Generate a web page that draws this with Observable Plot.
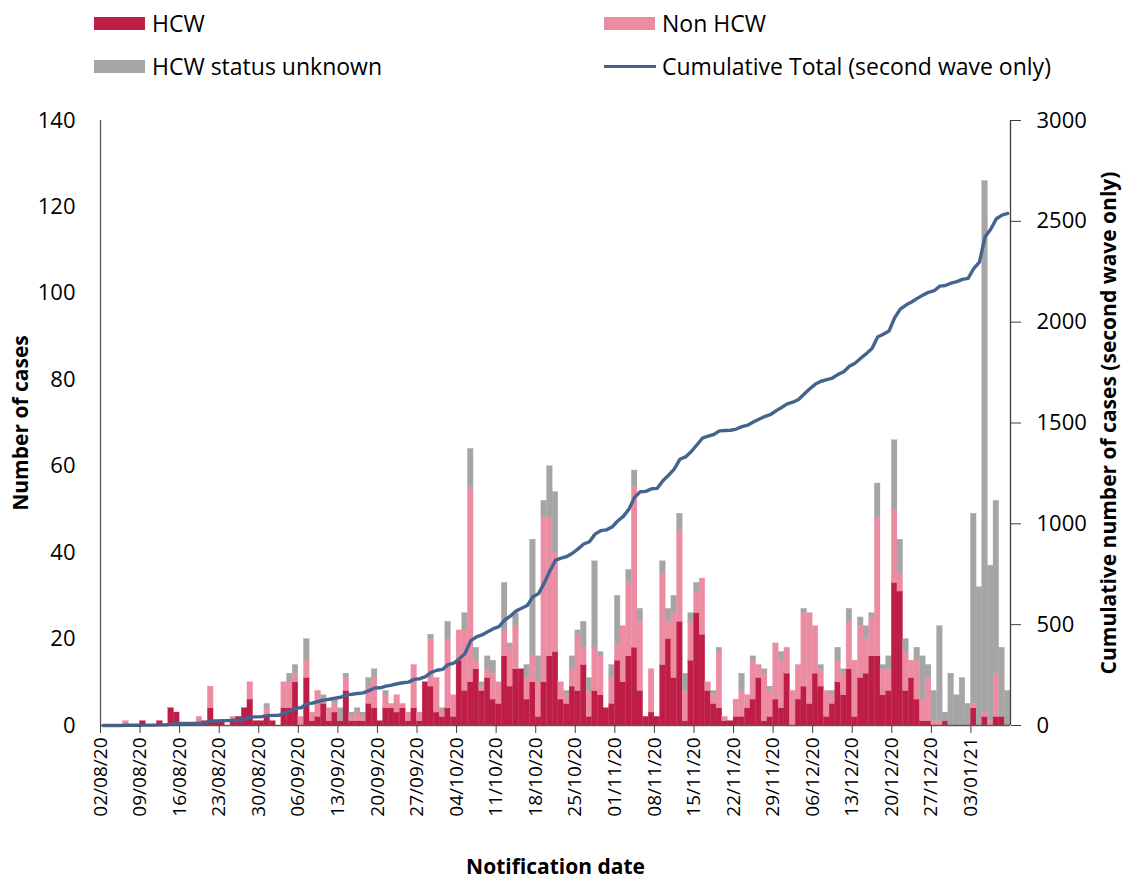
<!DOCTYPE html>
<html><head><meta charset="utf-8">
<script src="https://cdn.jsdelivr.net/npm/d3@7"></script>
<script src="https://cdn.jsdelivr.net/npm/@observablehq/plot@0.6"></script>
<style>
html,body{margin:0;padding:0;background:#fff;overflow:hidden}
body{font-family:"Open Sans",sans-serif;color:#000}
#legend{position:relative;width:1127px;height:95px}
.item{position:absolute;display:flex;align-items:center;font-size:23px;height:30px;white-space:nowrap}
.sw{width:51px;height:13px;margin-right:7px}
.ln{width:52px;height:3px;margin-right:6px}
</style></head><body>
<div id="legend"></div>
<div id="chart"></div>
<script>
// ---- data ----
const startDate = "2020-08-02";
const hcw = [
 0,0,0,0,0,0,0,1,0,0, 1,0,4,3,0,0,0,0,1,4, 1,1,0,1,2,4,6,1,1,2,
 1,0,4,4,10,0,11,1,2,5, 1,3,1,8,1,1,1,5,4,1, 4,4,3,4,1,4,1,10,9,3,
 2,4,2,15,8,10,13,8,11,6, 5,16,9,13,13,6,10,2,10,16, 17,6,5,9,8,14,2,8,7,4,
 5,15,10,16,18,8,2,3,2,14, 20,11,24,1,15,26,21,8,5,4, 1,1,2,2,4,6,11,1,2,6,
 4,12,0,6,9,5,12,9,2,5, 10,7,13,2,11,12,16,16,7,8, 33,31,8,11,6,1,1,0,0,1,
 0,0,0,0,4,0,2,0,2,2, 0
];
const nonHcw = [
 0,0,0,0,1,0,0,0,0,0, 0,0,0,0,0,0,0,2,0,5, 0,0,0,1,0,0,4,0,0,2,
 0,0,6,6,2,2,4,2,6,1, 3,2,0,3,1,2,1,4,7,0, 3,1,4,1,2,10,2,0,11,8,
 1,16,5,7,14,45,2,1,2,6, 5,6,9,10,0,5,6,8,38,32, 23,4,2,4,13,4,6,10,9,0,
 6,4,13,17,37,16,0,10,0,21, 4,15,21,7,9,5,13,2,2,13, 1,0,4,6,3,9,3,11,6,13,
 11,6,8,8,17,21,11,4,6,2, 5,5,11,13,12,8,9,32,6,5, 17,4,9,4,9,5,10,1,1,0,
 0,0,0,0,1,0,1,1,10,0, 0
];
const unknown = [
 0,0,0,0,0,0,0,0,0,0, 0,0,0,0,0,0,0,0,0,0, 0,0,0,0,0,0,0,0,0,1,
 0,0,0,2,2,0,5,0,0,1, 0,1,3,1,1,1,1,2,2,0, 1,0,0,0,0,0,0,0,1,0,
 1,4,0,0,4,9,3,1,3,3, 0,11,1,3,0,3,27,6,4,12, 14,0,1,3,1,6,3,20,1,0,
 3,11,0,3,4,3,0,0,0,3, 3,4,4,4,2,2,0,0,1,1, 0,0,0,4,0,1,0,1,1,0,
 2,0,0,0,1,0,0,1,0,1, 3,1,3,0,2,3,1,8,1,3, 16,8,3,0,3,10,3,7,22,2,
 12,7,11,5,44,32,123,36,40,16, 8
];
const tickLabels = ["02/08/20","09/08/20","16/08/20","23/08/20","30/08/20","06/09/20","13/09/20",
 "20/09/20","27/09/20","04/10/20","11/10/20","18/10/20","25/10/20","01/11/20","08/11/20","15/11/20",
 "22/11/20","29/11/20","06/12/20","13/12/20","20/12/20","27/12/20","03/01/21"];
const leftTicks = [0,20,40,60,80,100,120,140];
const rightTicks = [0,500,1000,1500,2000,2500,3000];
const seriesNames = ["HCW","Non HCW","HCW status unknown"];
const seriesColors = ["#BE1E46","#EC8CA3","#A5A5A5"];
const lineName = "Cumulative Total (second wave only)";
const lineColor = "#44648F";
const leftMax = 140, rightMax = 3000;
const xTitle = "Notification date";
const yTitle = "Number of cases";
const y2Title = "Cumulative number of cases (second wave only)";

// ---- build tables ----
const start = d3.utcParse("%Y-%m-%d")(startDate);
const dates = hcw.map((_, i) => d3.utcDay.offset(start, i));
const seriesValues = [hcw, nonHcw, unknown];
const rows = [];
dates.forEach((d, i) => {
  seriesNames.forEach((s, k) => {
    rows.push({start: d, end: d3.utcDay.offset(d, 1), series: s, value: seriesValues[k][i]});
  });
});
const totals = dates.map((_, i) => hcw[i] + nonHcw[i] + unknown[i]);
const cumulative = Array.from(d3.cumsum(totals));
const toLeft = v => v * leftMax / rightMax;
const lineRows = dates.map((d, i) => ({mid: d3.utcHour.offset(d, 12), cum: cumulative[i]}));
const xDomain = [dates[0], d3.utcDay.offset(dates[dates.length - 1], 1)];
const parseTick = d3.utcParse("%d/%m/%y");
const tickDates = tickLabels.map(parseTick);

// ---- legend ----
const legend = document.getElementById("legend");
const items = [
  {label: seriesNames[0], color: seriesColors[0], left: 94, cy: 23, type: "sw"},
  {label: seriesNames[2], color: seriesColors[2], left: 94, cy: 66, type: "sw"},
  {label: seriesNames[1], color: seriesColors[1], left: 604, cy: 23, type: "sw"},
  {label: lineName, color: lineColor, left: 604, cy: 66, type: "ln"}
];
items.forEach(it => {
  const div = document.createElement("div");
  div.className = "item";
  div.style.left = it.left + "px";
  div.style.top = (it.cy - 15) + "px";
  const sw = document.createElement("span");
  sw.className = it.type;
  sw.style.background = it.color;
  const tx = document.createElement("span");
  tx.textContent = it.label;
  div.appendChild(sw); div.appendChild(tx);
  legend.appendChild(div);
});

// ---- chart ----
const chart = Plot.plot({
  width: 1127, height: 785,
  marginTop: 25, marginBottom: 155, marginLeft: 100, marginRight: 117,
  style: {fontFamily: "'Open Sans', sans-serif", fontSize: "22px", color: "#000", background: "#fff", overflow: "visible"},
  x: {type: "utc", domain: xDomain},
  y: {domain: [0, leftMax]},
  color: {domain: seriesNames, range: seriesColors},
  marks: [
    Plot.rectY(rows, {x1: "start", x2: "end", y: "value", fill: "series", inset: 0, stroke: "series", strokeWidth: 0.3}),
    Plot.line(lineRows, {x: "mid", y: d => toLeft(d.cum), stroke: lineColor, strokeWidth: 3.4, curve: "linear"}),
    Plot.ruleY([0], {stroke: "#595959", strokeWidth: 1.3}),
    Plot.ruleX([xDomain[0]], {stroke: "#595959", strokeWidth: 1.3}),
    Plot.ruleX([xDomain[1]], {stroke: "#404040", strokeWidth: 1.3}),
    Plot.axisX({ticks: tickDates, tickFormat: d3.utcFormat("%d/%m/%y"), tickRotate: -90, tickSize: 8, tickPadding: 4,
      label: xTitle, labelAnchor: "center", labelOffset: 148, labelArrow: "none", stroke: "#404040"}),
    Plot.axisY({anchor: "left", ticks: leftTicks, tickSize: 0, tickPadding: 25,
      label: yTitle, labelAnchor: "center", labelOffset: 87, labelArrow: "none"}),
    Plot.axisY({anchor: "right", ticks: rightTicks.map(toLeft), tickFormat: v => String(Math.round(v * rightMax / leftMax)),
      tickSize: 10, tickPadding: 16, stroke: "#404040",
      label: y2Title, labelAnchor: "center", labelOffset: 105, labelArrow: "none"})
  ]
});
document.getElementById("chart").appendChild(chart);
const svg = d3.select(chart);
svg.selectAll('g[aria-label="x-axis tick label"]').attr("font-size", 19);
svg.selectAll('g[aria-label="x-axis label"], g[aria-label="y-axis label"]').attr("font-weight", "bold").attr("font-size", 21);
</script>
</body></html>
